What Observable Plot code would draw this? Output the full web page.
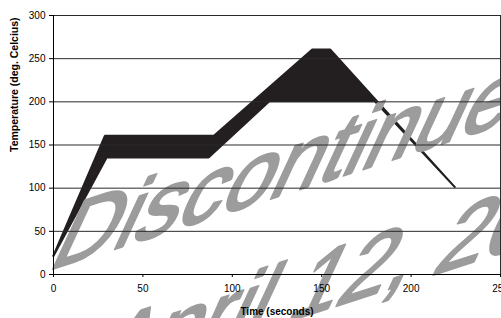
<!DOCTYPE html>
<html>
<head>
<meta charset="utf-8">
<script src="https://cdn.jsdelivr.net/npm/d3@7"></script>
<script src="https://cdn.jsdelivr.net/npm/@observablehq/plot@0.6"></script>
<style>
  html, body { margin: 0; padding: 0; background: #fff; overflow: hidden; }
  #chart { position: relative; width: 501px; height: 318px; }
</style>
</head>
<body>
<div id="chart"></div>
<script>
// Upper boundary of the reflow temperature band (time s, temp °C)
const upperTime = [0, 29, 90, 145, 155, 225];
const upperTemp = [20, 160, 160, 260, 260, 100];
// Lower boundary of the band
const lowerTime = [0, 30, 87, 121, 180, 225];
const lowerTemp = [20, 135, 135, 200, 200, 100];

const xTicks = [0, 50, 100, 150, 200, 250];
const yTicks = [0, 50, 100, 150, 200, 250, 300];

const xLabel = "Time (seconds)";
const yLabel = "Temperature (deg. Celcius)";
const watermark1 = "Discontinued";
const watermark2 = "April 12, 2007";

const band = upperTime.map((t, i) => ({
  ux: t, uy: upperTemp[i], lx: lowerTime[i], ly: lowerTemp[i]
}));

const font = "'Liberation Sans', Arial, Helvetica, sans-serif";

const chart = Plot.plot({
  width: 501,
  height: 318,
  marginLeft: 53,
  marginRight: 1,
  marginTop: 15,
  marginBottom: 44,
  style: { fontFamily: font, fontSize: "10px", color: "#000", background: "#fff" },
  x: { domain: [0, 250], label: null },
  y: { domain: [0, 300], label: null },
  marks: [
    Plot.area(band, {
      x1: "ux", y1: "uy", x2: "lx", y2: "ly",
      fill: "#231f20", stroke: "#231f20", strokeWidth: 2, strokeLinejoin: "miter"
    }),
    Plot.ruleY(yTicks.filter(d => d > 0), { stroke: "#2a2a2a", strokeWidth: 1 }),
    Plot.ruleX([250], { y1: 0, y2: 300, stroke: "#2a2a2a", strokeWidth: 1 }),
    Plot.ruleX([0], { y1: 0, y2: 300, stroke: "#000", strokeWidth: 1 }),
    Plot.ruleY([0], { stroke: "#000", strokeWidth: 1 }),
    Plot.axisY({ ticks: yTicks, tickSize: 4, tickPadding: 4, fontSize: 10, label: null }),
    Plot.axisX({ ticks: xTicks, tickSize: 3, tickPadding: 7, fontSize: 10, label: null }),
    Plot.text([xLabel], {
      text: d => d, frameAnchor: "bottom", dy: 37,
      fontWeight: "bold", fontSize: 10, lineAnchor: "middle"
    }),
    Plot.text([yLabel], {
      text: d => d, frameAnchor: "left", rotate: -90, dx: -39, dy: 7,
      fontWeight: "bold", fontSize: 10.5, lineAnchor: "middle"
    })
  ]
});

document.getElementById("chart").appendChild(chart);

// Watermark: above the band, below gridlines, axes and labels
const svg = d3.select(chart);
const areaNode = chart.querySelector('[aria-label="area"]');
const wm = svg.append("g")
  .attr("fill", "#9c9c9c")
  .attr("stroke", "#9c9c9c")
  .attr("stroke-width", 2.5)
  .attr("stroke-linejoin", "round")
  .attr("font-family", font)
  .attr("font-size", 92)
  .attr("text-anchor", "start");
const M = "matrix(0.952,-0.306,-0.5,1.08,0,0)";
wm.append("text")
  .attr("text-anchor", "start")
  .attr("transform", `translate(46,271) ${M}`)
  .text(watermark1);
wm.append("text")
  .attr("text-anchor", "start")
  .attr("transform", `translate(84,387) ${M}`)
  .text(watermark2);
if (areaNode) chart.insertBefore(wm.node(), areaNode.nextSibling);
</script>
</body>
</html>
